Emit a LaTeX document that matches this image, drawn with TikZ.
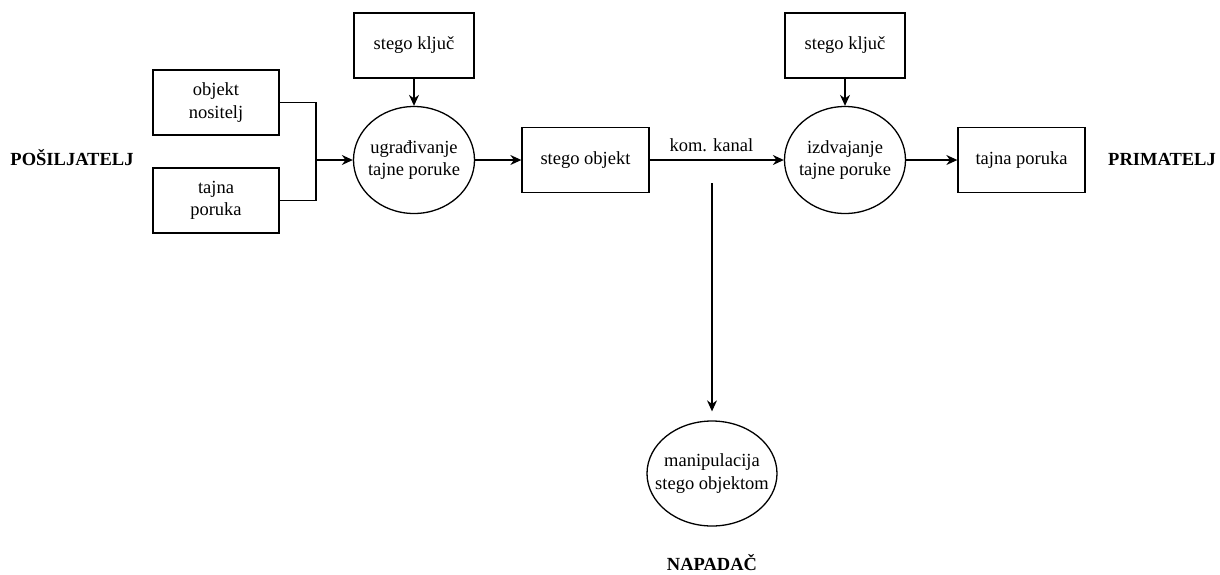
\documentclass[tikz,border=0pt]{standalone}
\usepackage{fontspec}
\setmainfont{Liberation Serif}
\usetikzlibrary{arrows.meta,shapes.geometric,positioning}

\begin{document}
\begin{tikzpicture}[x=1pt,y=-1pt,-,>={Stealth[length=11pt,width=10pt]},auto,line width=1.3pt,
    box node/.style={rectangle,draw,inner sep=0pt,align=center,minimum width=126pt,minimum height=65pt,font=\fontsize{18.5}{22.5}\selectfont},
    round node/.style={ellipse,draw,inner xsep=-4pt,inner ysep=0pt,align=center,minimum width=121pt,minimum height=107pt,font=\fontsize{18.5}{22.5}\selectfont},
    side node/.style={font=\fontsize{18.5}{22.5}\selectfont\bfseries}]
            \useasboundingbox (0,0) rectangle (1220,574);

            \node[box node] (nositelj) at (216,102.5) {objekt\\nositelj};
            \node[box node] (poruka1) at (216,200.5) {tajna\\poruka};
            \node[side node] (posiljatelj) at (72,158) {POŠILJATELJ};

            \node[round node] (ugradivanje) at (414,160) {ugrađivanje\\tajne poruke};
            \node[box node, minimum width=120pt] (kljuc1) at (414,45.5) {stego ključ};
            \node[box node, minimum width=127pt] (objekt) at (585.5,160) {stego objekt};

            \node[round node] (izdvajanje) at (845,160) {izdvajanje\\tajne poruke};
            \node[box node, minimum width=120pt] (kljuc2) at (845,45.5) {stego ključ};
            \node[box node, minimum width=127pt] (poruka2) at (1021.5,160) {tajna poruka};
            \node[side node] (primatelj) at (1162,159) {PRIMATELJ};

            \node[round node, inner xsep=-11pt, minimum width=130pt, minimum height=105pt] (manipulacija) at (712,473.5) {manipulacija\\stego objektom};
            \node[side node] (napadac) at (712,563) {NAPADAČ};

            \coordinate (spoj) at (316,160);
            \coordinate (kanal) at (712,183);

            \draw (nositelj.east) -| (spoj);
            \draw (poruka1.east) -| (spoj);
            \draw[->] (spoj) -- (ugradivanje);
            \draw[->] (kljuc1) -- (ugradivanje);
            \draw[->] (ugradivanje) -- (objekt);
            \draw[->] (objekt) -- node[above=4pt,pos=0.46,font=\fontsize{18.5}{22.5}\selectfont]{kom. kanal} (izdvajanje);
            \draw[->] (kljuc2) -- (izdvajanje);
            \draw[->] (izdvajanje) -- (poruka2);
            \draw[->,shorten >=9pt] (kanal) -- (manipulacija);
        \end{tikzpicture}
\end{document}
